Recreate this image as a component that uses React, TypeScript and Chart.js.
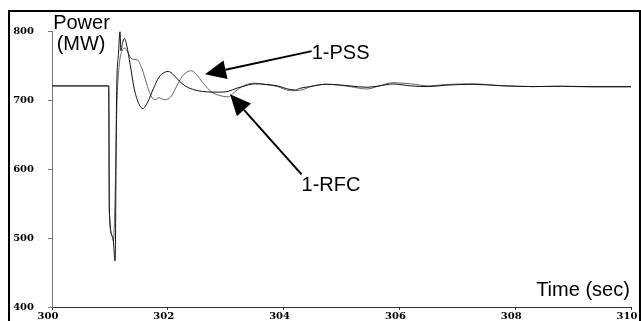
import React, { useEffect, useRef } from "react";
import { Chart, registerables } from "chart.js";

Chart.register(...registerables);

// Series A (darker curve)
const timeA = [
  300.0, 300.98, 300.99, 301.05, 301.09, 301.115, 301.15, 301.174, 301.19, 301.22,
  301.25, 301.29, 301.35, 301.42, 301.5, 301.57, 301.65, 301.75, 301.85, 301.95,
  302.01, 302.1, 302.2, 302.3, 302.47, 302.6, 302.76, 302.9, 303.04, 303.2,
  303.33, 303.51, 303.7, 303.9, 304.05, 304.2, 304.28, 304.46, 304.74, 304.97,
  305.15, 305.44, 305.65, 305.89, 306.2, 306.5, 306.8, 307.27, 307.74, 308.31,
  308.8, 309.3, 310.0,
];
const powerA = [
  721, 721, 541, 502, 467, 703, 770, 800, 772, 784,
  790, 780, 752, 717, 695, 688, 697, 717, 734, 741,
  742, 737, 728, 721, 715, 713, 712, 712, 713, 718,
  721, 724, 723, 721, 717, 715, 717.5, 720, 723.4, 722.4,
  721, 719, 721, 723.8, 721, 720, 722, 723.4, 721.3, 720,
  720.5, 720, 720,
];

// Series B (grey curve)
const timeB = [
  300.0, 300.98, 300.99, 301.03, 301.06, 301.09, 301.12, 301.16, 301.21, 301.26,
  301.31, 301.38, 301.47, 301.55, 301.65, 301.72, 301.78, 301.85, 301.9, 301.95,
  302.05, 302.15, 302.25, 302.35, 302.41, 302.5, 302.6, 302.76, 302.9, 303.04,
  303.15, 303.33, 303.51, 303.7, 303.9, 304.05, 304.2, 304.35, 304.46, 304.74,
  304.97, 305.15, 305.44, 305.65, 305.89, 306.2, 306.5, 306.8, 307.27, 307.74,
  308.31, 308.8, 309.3, 310.0,
];
const powerB = [
  721, 721, 541, 505, 496, 560, 690, 750, 772, 776,
  770, 760, 759, 747, 720, 705, 701, 704, 702, 701,
  705, 720, 735, 742, 743, 737, 726, 712, 707, 705,
  712, 722, 725, 723, 720, 715, 714, 716, 720, 723.4,
  722, 720, 716.5, 721, 725.7, 724, 721, 723, 724, 721.5,
  720, 720.5, 719.5, 719.5,
];

const xTicks = [300, 302, 304, 306, 308, 310];
const yTicks = [400, 500, 600, 700, 800];

// Text annotations
const noteTexts = ["Power", "(MW)", "1-PSS", "1-RFC", "Time (sec)"];
const noteTimes = [300.02, 300.08, 304.485, 304.31, 309.98];
const notePowers = [803, 772.5, 760.5, 568, 416.5];
const noteAligns = ["left", "left", "left", "left", "right"];

// Arrows: tail (time, power) -> tip (time, power)
const arrowTailTimes = [304.485, 304.31];
const arrowTailPowers = [771.5, 592.5];
const arrowTipTimes = [302.642, 303.074];
const arrowTipPowers = [738, 709];

const annotationPlugin = {
  id: "annotations",
  afterDraw(chart: any) {
    const ctx = chart.ctx;
    const xs = chart.scales.x;
    const ys = chart.scales.y;
    ctx.save();
    ctx.fillStyle = "#000";
    ctx.strokeStyle = "#000";
    ctx.font = '20px "Liberation Sans", Arial, sans-serif';
    ctx.textBaseline = "alphabetic";
    noteTexts.forEach((t, i) => {
      ctx.textAlign = noteAligns[i];
      ctx.fillText(t, xs.getPixelForValue(noteTimes[i]), ys.getPixelForValue(notePowers[i]));
    });
    for (let i = 0; i < arrowTailTimes.length; i++) {
      const x0 = xs.getPixelForValue(arrowTailTimes[i]);
      const y0 = ys.getPixelForValue(arrowTailPowers[i]);
      const x1 = xs.getPixelForValue(arrowTipTimes[i]);
      const y1 = ys.getPixelForValue(arrowTipPowers[i]);
      const dx = x1 - x0;
      const dy = y1 - y0;
      const len = Math.sqrt(dx * dx + dy * dy);
      const ux = dx / len;
      const uy = dy / len;
      const L = 21;
      const W = 9.5;
      const bx = x1 - ux * L;
      const by = y1 - uy * L;
      ctx.lineWidth = 2;
      ctx.beginPath();
      ctx.moveTo(x0, y0);
      ctx.lineTo(bx, by);
      ctx.stroke();
      ctx.beginPath();
      ctx.moveTo(x1, y1);
      ctx.lineTo(bx - uy * W, by + ux * W);
      ctx.lineTo(bx + uy * W, by - ux * W);
      ctx.closePath();
      ctx.fill();
    }
    ctx.restore();
  },
};

const tickFont = { family: '"DejaVu Serif", serif', size: 10, weight: "bold" as const };

export default function App() {
  const ref = useRef<HTMLCanvasElement | null>(null);
  useEffect(() => {
    if (!ref.current) return;
    const chart = new Chart(ref.current, {
      type: "line",
      data: {
        datasets: [
          {
            label: "A",
            data: timeA.map((t, i) => ({ x: t, y: powerA[i] })),
            borderColor: "#111",
            borderWidth: 1,
            pointRadius: 0,
            cubicInterpolationMode: "monotone",
          },
          {
            label: "B",
            data: timeB.map((t, i) => ({ x: t, y: powerB[i] })),
            borderColor: "#666",
            borderWidth: 1,
            pointRadius: 0,
            cubicInterpolationMode: "monotone",
          },
        ],
      },
      options: {
        animation: false,
        responsive: false,
        layout: { padding: { top: 19.5, right: 8, left: 0, bottom: 0 } },
        plugins: { legend: { display: false }, tooltip: { enabled: false } },
        scales: {
          x: {
            type: "linear",
            min: 300,
            max: 310,
            afterBuildTicks: (s: any) => {
              s.ticks = xTicks.map((v) => ({ value: v }));
            },
            ticks: {
              font: tickFont,
              color: "#000",
              padding: 0,
              labelOffset: -4,
              maxRotation: 0,
              autoSkip: false,
            },
            grid: { drawOnChartArea: false, drawTicks: true, tickLength: 3, tickColor: "#333" },
            border: { color: "#333", width: 1 },
            afterFit: (s: any) => {
              s.height = 31;
              s.paddingLeft = 0;
              s.paddingRight = 0;
            },
          },
          y: {
            min: 400,
            max: 800,
            afterBuildTicks: (s: any) => {
              s.ticks = yTicks.map((v) => ({ value: v }));
            },
            ticks: { font: tickFont, color: "#000", padding: 14, autoSkip: false },
            grid: { drawOnChartArea: false, drawTicks: true, tickLength: 4, tickColor: "#777" },
            border: { color: "#777", width: 1 },
            afterFit: (s: any) => {
              s.width = 42;
              s.paddingTop = 0;
              s.paddingBottom = 0;
            },
          },
        },
      },
      plugins: [annotationPlugin],
    } as any);
    return () => chart.destroy();
  }, []);

  return (
    <div
      style={{
        position: "fixed",
        left: 8,
        top: 10,
        width: 633,
        height: 330,
        border: "2px solid #000",
        boxSizing: "border-box",
        background: "#fff",
      }}
    >
      <canvas ref={ref} width={629} height={326} style={{ display: "block", width: 629, height: 326 }} />
    </div>
  );
}
